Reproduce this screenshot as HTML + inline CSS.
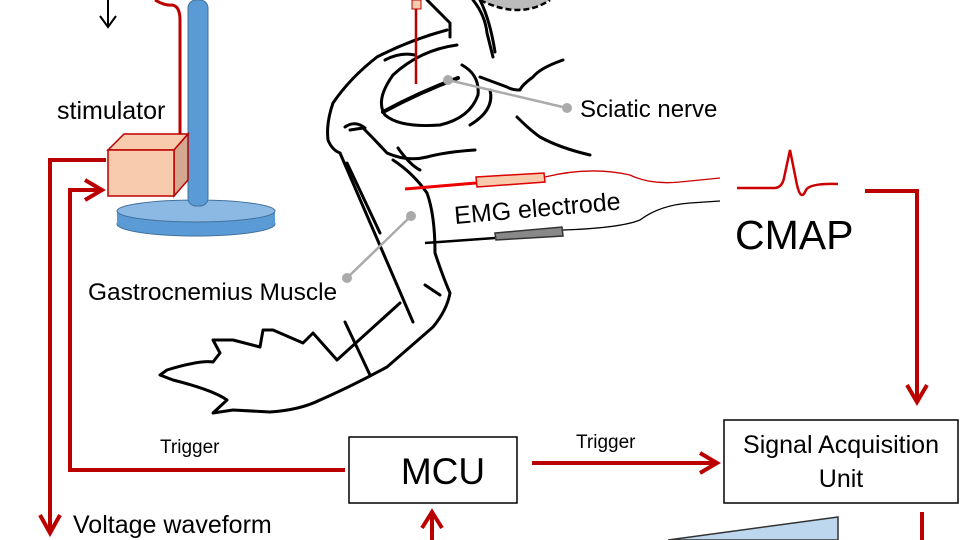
<!DOCTYPE html>
<html><head><meta charset="utf-8"><style>
html,body{margin:0;padding:0;background:#fff;}
svg{display:block;font-family:"Liberation Sans",sans-serif;}
</style></head><body>
<svg width="960" height="540" viewBox="0 0 960 540" xmlns="http://www.w3.org/2000/svg">
<!-- top black arrow -->
<path d="M108 0 V26 M100 16 L108 27 L116 16" stroke="#000" stroke-width="2" fill="none"/>
<!-- red wire to stimulator -->
<path d="M155 0 Q165 6 172 5 Q180 6 180 20 V134" stroke="#b00" stroke-width="3" fill="none"/>
<!-- stand -->
<ellipse cx="196" cy="224" rx="79" ry="12" fill="#5b9bd5" stroke="#41719c"/>
<rect x="117" y="212" width="158" height="12" fill="#5b9bd5"/>
<ellipse cx="196" cy="211" rx="79" ry="11" fill="#8cb8e4" stroke="#41719c"/>
<rect x="188" y="0" width="20" height="206" rx="8" fill="#5b9bd5" stroke="#41719c"/>
<!-- stimulator box -->
<polygon points="108,150 124,134 188,134 174,150" fill="#f8cbad" stroke="#b00" stroke-width="1.5"/>
<polygon points="174,150 188,134 188,180 174,196" fill="#d4a78f" stroke="#b00" stroke-width="1.5"/>
<rect x="108" y="150" width="66" height="46" fill="#f8cbad" stroke="#b00" stroke-width="1.5"/>
<text x="57" y="119" font-size="25" fill="#000">stimulator</text>
<!-- red loops left -->
<path d="M106 160 H50 V530" stroke="#b00" stroke-width="4" fill="none"/>
<path d="M40 515 L50 533 L60 515" stroke="#b00" stroke-width="4" fill="none"/>
<path d="M345 470 H70 V190 H100" stroke="#b00" stroke-width="4" fill="none"/>
<path d="M85 180 L102 190 L85 200" stroke="#b00" stroke-width="4" fill="none"/>
<text x="160" y="453" font-size="19" fill="#000">Trigger</text>
<text x="73" y="533" font-size="25" fill="#000">Voltage waveform</text>
<!-- leg drawing -->
<g stroke="#000" stroke-width="3" fill="none" stroke-linecap="round" stroke-linejoin="round">
<path d="M447 30 Q410 40 377 57 Q350 78 333 103 Q326 123 328 140 Q332 150 340 153"/>
<path d="M340 153 L413 322"/>
<path d="M347 163 L380 233"/>
<path d="M350 130 L363 128 Q375 140 387 153 Q407 162 427 157 Q445 152 475 150"/>
<path d="M393 160 Q413 173 427 193 Q435 215 435 253 Q443 277 450 293 Q447 310 433 327 Q410 347 387 367 Q350 387 320 400 Q300 410 270 412 L233 410 L213 413 L227 400 Q213 390 173 380 L160 375 L167 370 Q200 360 213 362 L220 353 L213 340 L233 340 L260 347 L263 330 L273 330 L303 343 L313 333 L337 360 L400 303"/>
<path d="M427 0 L450 23 L450 37"/>
<path d="M473 0 Q485 15 487 33 L493 57"/>
<path d="M480 0 Q490 20 495 52"/>
<path d="M563 60 Q540 68 533 77 Q522 85 520 90 Q512 90 507 87 L480 77"/>
<path d="M517 117 Q530 130 540 137 Q560 148 590 155"/>
<path d="M457 45 Q420 50 393 75 Q375 100 385 115 Q400 128 440 125 Q470 118 478 95 Q480 75 462 65"/>
<path d="M383 112 Q420 92 458 78" stroke-width="4"/>
<path d="M385 60 Q400 52 415 55"/>
<path d="M490 90 Q495 110 470 125"/>
<path d="M345 127 Q355 120 365 128"/>
<path d="M425 285 L440 295"/>
<path d="M345 322 L370 375"/>
<path d="M398 148 Q410 165 420 170"/>
</g>
<!-- dashed grey cap -->
<path d="M480 0 Q520 20 550 0" fill="#bbb" stroke="#000" stroke-width="2.5" stroke-dasharray="6,3"/>
<!-- red needle -->
<rect x="412" y="0" width="9" height="9" fill="#f8cbad" stroke="#b00"/>
<line x1="416" y1="9" x2="416" y2="84" stroke="#b00" stroke-width="2.5"/>
<!-- sciatic pointer -->
<line x1="448" y1="80" x2="567" y2="108" stroke="#aaa" stroke-width="2.5"/>
<circle cx="448" cy="80" r="5" fill="#aaa"/><circle cx="567" cy="108" r="5" fill="#aaa"/>
<text x="580" y="117" font-size="24" fill="#000">Sciatic nerve</text>
<!-- muscle pointer -->
<line x1="347" y1="278" x2="411" y2="216" stroke="#aaa" stroke-width="2.5"/>
<circle cx="347" cy="278" r="5" fill="#aaa"/><circle cx="411" cy="216" r="5" fill="#aaa"/>
<text x="88" y="300" font-size="24.5" fill="#000">Gastrocnemius Muscle</text>
<!-- electrodes -->
<line x1="405" y1="189" x2="476" y2="183" stroke="#e00" stroke-width="3"/>
<polygon points="476,177 544,173 545,182 477,187" fill="#f8cbad" stroke="#d00" stroke-width="1.5"/>
<path d="M545 177 Q590 166 630 175 Q650 185 680 182 L720 178" stroke="#c00" stroke-width="1.3" fill="none"/>
<line x1="425" y1="243" x2="495" y2="238" stroke="#000" stroke-width="2.5"/>
<polygon points="495,233 562,227 563,236 496,240" fill="#888" stroke="#333" stroke-width="1.5"/>
<path d="M563 230 Q620 228 640 220 Q660 205 690 203 L720 201" stroke="#000" stroke-width="1.3" fill="none"/>
<text x="455" y="224" font-size="25" fill="#000" transform="rotate(-5 455 224)">EMG electrode</text>
<!-- CMAP -->
<path d="M737 188 H774 Q782 188 784 178 L790 150 L797 185 Q801 202 806 190 Q810 183 838 184" stroke="#c00" stroke-width="2.5" fill="none"/>
<text x="735" y="249" font-size="41" fill="#000">CMAP</text>
<path d="M865 191 H917 V400" stroke="#b00" stroke-width="4" fill="none"/>
<path d="M907 385 L917 402 L927 385" stroke="#b00" stroke-width="4" fill="none"/>
<!-- boxes -->
<rect x="349" y="437" width="168" height="66" fill="#fff" stroke="#000" stroke-width="1.5"/>
<text x="443" y="484" font-size="37" text-anchor="middle" fill="#000">MCU</text>
<rect x="724" y="420" width="234" height="83" fill="#fff" stroke="#000" stroke-width="1.5"/>
<text x="841" y="453" font-size="25" text-anchor="middle" fill="#000">Signal Acquisition</text>
<text x="841" y="487" font-size="25" text-anchor="middle" fill="#000">Unit</text>
<path d="M532 463 H716" stroke="#b00" stroke-width="4" fill="none"/>
<path d="M700 453 L717 463 L700 473" stroke="#b00" stroke-width="4" fill="none"/>
<text x="576" y="448" font-size="19" fill="#000">Trigger</text>
<!-- bottom -->
<path d="M432 540 V514 M422 528 L432 512 L442 528" stroke="#b00" stroke-width="4" fill="none"/>
<line x1="922" y1="512" x2="922" y2="540" stroke="#b00" stroke-width="4"/>
<polygon points="668,540 838,517 838,540" fill="#bdd7ee" stroke="#333" stroke-width="1.5"/>
</svg>
</body></html>
